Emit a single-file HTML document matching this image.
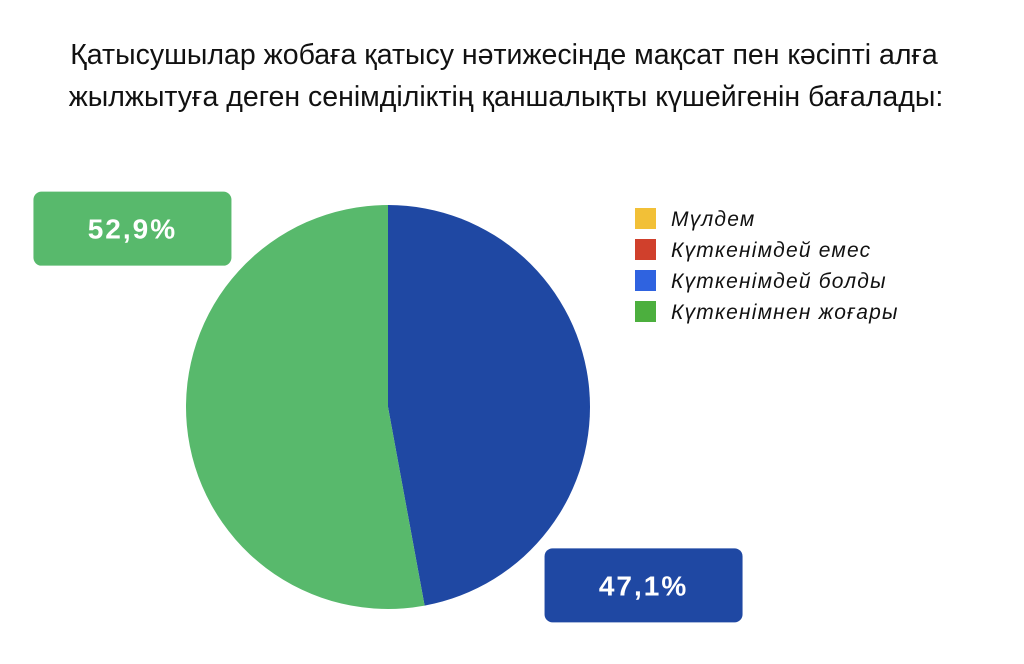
<!DOCTYPE html>
<html><head><meta charset="utf-8"><style>
body{margin:0;width:1024px;height:659px;background:#fff;overflow:hidden;font-family:"Liberation Sans",sans-serif}
</style></head><body>
<svg width="1024" height="659">
<text x="504" y="64" text-anchor="middle" font-size="28.5" fill="#111">Қатысушылар жобаға қатысу нәтижесінде мақсат пен кәсіпті алға</text>
<text x="506" y="106" text-anchor="middle" font-size="28.5" fill="#111">жылжытуға деген сенімділіктің қаншалықты күшейгенін бағалады:</text>
<g id="slices"></g>
<g id="labels"></g>
<g id="legend"></g>
</svg>
<script>
const categories=["Мүлдем","Күткенімдей емес","Күткенімдей болды","Күткенімнен жоғары"];
const values=[0,0,47.1,52.9];
const valueLabels=["0%","0%","47,1%","52,9%"];
const colors=["#f2c037","#d0402c","#1f48a3","#58b96c"];
const legendColors=["#f2c037","#d0402c","#2f63e0","#4caf3e"];
const NS="http://www.w3.org/2000/svg";
const cx=388,cy=407,r=202;
function pt(a){return [cx+r*Math.sin(a),cy-r*Math.cos(a)];}
const total=values.reduce((a,b)=>a+b,0);
let a0=0;
const sl=document.getElementById('slices'),lb=document.getElementById('labels');
values.forEach((v,i)=>{
 if(v<=0)return;
 const a1=a0+v/total*2*Math.PI;
 const p0=pt(a0),p1=pt(a1);
 const path=document.createElementNS(NS,'path');
 path.setAttribute('d',`M${cx},${cy}L${p0[0]},${p0[1]}A${r},${r} 0 ${a1-a0>Math.PI?1:0} 1 ${p1[0]},${p1[1]}Z`);
 path.setAttribute('fill',colors[i]);
 
 
 sl.appendChild(path);
 const mid=(a0+a1)/2+41*Math.PI/180;
 const bx=cx+315*Math.sin(mid), by=cy-305*Math.cos(mid);
 const g=document.createElementNS(NS,'g');
 
 
 const w=198,h=74;
 const rect=document.createElementNS(NS,'rect');
 rect.setAttribute('x',bx-w/2);rect.setAttribute('y',by-h/2);rect.setAttribute('width',w);rect.setAttribute('height',h);rect.setAttribute('rx',8);rect.setAttribute('fill',colors[i]);
 g.appendChild(rect);
 const t=document.createElementNS(NS,'text');
 t.setAttribute('x',bx);t.setAttribute('y',by+10);t.setAttribute('text-anchor','middle');t.setAttribute('font-size','28');t.setAttribute('font-weight','bold');t.setAttribute('letter-spacing','2');t.setAttribute('fill','#fff');
 t.textContent=valueLabels[i];
 g.appendChild(t);
 lb.appendChild(g);
 a0=a1;
});
const lg=document.getElementById('legend');
categories.forEach((c,i)=>{
 const y=218+i*31;
 const g=document.createElementNS(NS,'g');
 
 
 const rc=document.createElementNS(NS,'rect');
 rc.setAttribute('x',635);rc.setAttribute('y',y-10);rc.setAttribute('width',21);rc.setAttribute('height',21);rc.setAttribute('fill',legendColors[i]);
 g.appendChild(rc);
 const t=document.createElementNS(NS,'text');
 t.setAttribute('x',671);t.setAttribute('y',y+8);t.setAttribute('font-size','21');t.setAttribute('font-style','italic');t.setAttribute('letter-spacing','1.2');t.setAttribute('fill','#111');
 t.textContent=c;
 g.appendChild(t);
 lg.appendChild(g);
});
</script>
</body></html>
